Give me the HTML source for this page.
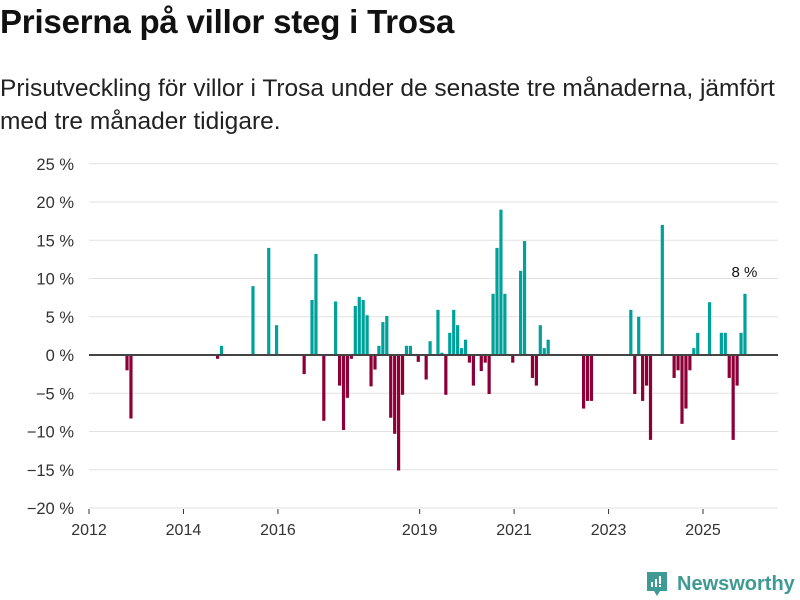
<!DOCTYPE html>
<html><head><meta charset="utf-8">
<style>
body{margin:0;width:800px;height:600px;background:#fff;font-family:"Liberation Sans","DejaVu Sans",sans-serif;color:#111;overflow:hidden;position:relative}
#title{position:absolute;left:0;top:3px;font-size:33px;font-weight:bold;letter-spacing:-0.2px}
#sub{position:absolute;left:0;top:72px;font-size:24.5px;line-height:33px;width:790px;color:#222}
#logo{position:absolute;left:645px;top:570px;display:flex;align-items:center}
#logo span{color:#3f9a93;font-weight:bold;font-size:20px;margin-left:8px}
</style></head><body>
<div id="title">Priserna på villor steg i Trosa</div>
<div id="sub">Prisutveckling för villor i Trosa under de senaste tre månaderna, jämfört med tre månader tidigare.</div>
<svg id="chart" width="800" height="600" style="position:absolute;left:0;top:0"></svg>
<div id="logo">
<svg width="24" height="28" viewBox="0 0 24 28"><path d="M2 2h20v19h-7l-3 5-3-5H2z" fill="#3f9a93"/><rect x="6" y="12" width="2" height="5" fill="#fff"/><rect x="10" y="9" width="2" height="8" fill="#fff"/><rect x="14" y="6" width="2" height="8" fill="#fff"/><rect x="14" y="15" width="2" height="2" fill="#fff"/></svg>
<span>Newsworthy</span></div>
<script>
const months=["2012-10","2012-11","2014-09","2014-10","2015-06","2015-10","2015-12","2016-07","2016-09","2016-10","2016-12",
"2017-03","2017-04","2017-05","2017-06","2017-07","2017-08","2017-09","2017-10","2017-11","2017-12",
"2018-01","2018-02","2018-03","2018-04","2018-05","2018-06","2018-07","2018-08","2018-09","2018-10","2018-12",
"2019-02","2019-03","2019-05","2019-06","2019-07","2019-08","2019-09","2019-10","2019-11","2019-12",
"2020-01","2020-02","2020-04","2020-05","2020-06","2020-07","2020-08","2020-09","2020-10","2020-12",
"2021-02","2021-03","2021-05","2021-06","2021-07","2021-08","2021-09",
"2022-06","2022-07","2022-08",
"2023-06","2023-07","2023-08","2023-09","2023-10","2023-11",
"2024-02","2024-05","2024-06","2024-07","2024-08","2024-09","2024-10","2024-11",
"2025-02","2025-05","2025-06","2025-07","2025-08","2025-09","2025-10","2025-11"];
const values=[-2,-8.3,-0.5,1.2,9,14,3.9,-2.5,7.2,13.2,-8.6,
7,-4,-9.8,-5.6,-0.5,6.4,7.6,7.2,5.2,-4.1,
-1.9,1.2,4.3,5.1,-8.2,-10.3,-15.1,-5.2,1.2,1.2,-0.9,
-3.2,1.8,5.9,0.3,-5.2,2.9,5.9,3.9,0.9,2,
-1,-4,-2.1,-1,-5.1,8,14,19,8,-1,
11,14.9,-3,-4,3.9,0.9,2,
-7,-6,-6,
5.9,-5.1,5,-6,-4,-11.1,
17,-3,-2,-9,-7,-2,0.9,2.9,
6.9,2.9,2.9,-3,-11.1,-4,2.9,8];
const yTicks=[25,20,15,10,5,0,-5,-10,-15,-20];
const xTicks=[2012,2014,2016,2019,2021,2023,2025];
const svg=document.getElementById('chart');
const NS='http://www.w3.org/2000/svg';
const x0=89,x1=778,pxMonth=3.936;
function xScale(y,m){return x0+((y-2012)*12+m)*pxMonth;}
function yScale(v){return 355-v*7.65;}
function mk(t,a){const e=document.createElementNS(NS,t);for(const k in a)e.setAttribute(k,a[k]);svg.appendChild(e);return e;}
yTicks.forEach(v=>{
  const g=mk('line',{x1:x0,x2:x1,y1:yScale(v),y2:yScale(v),stroke:'#e2e2e2','stroke-width':1});
  
  
  const t=mk('text',{x:74,y:yScale(v)+6,'text-anchor':'end','font-size':16.5,fill:'#333'});
  t.textContent=(v<0?'−'+(-v):v)+' %';
  
  
});
xTicks.forEach(yr=>{
  const x=xScale(yr,0);
  const l=mk('line',{x1:x,x2:x,y1:509,y2:514,stroke:'#333'});
  
  
  const t=mk('text',{x:x,y:535,'text-anchor':'middle','font-size':16,fill:'#333'});
  t.textContent=yr;
  
  
});
months.forEach((d,i)=>{
  const [yy,mm]=d.split('-').map(Number);
  const v=values[i];
  const x=xScale(yy,mm-1)+1;
  const y=Math.min(yScale(v),yScale(0)),h=Math.abs(yScale(v)-yScale(0));
  const r=mk('rect',{x:x,y:y,width:3.2,height:h,fill:v>=0?'#00a19a':'#8c0037'});
  
  
});
const z=mk('line',{x1:x0,x2:x1,y1:yScale(0),y2:yScale(0),stroke:'#444','stroke-width':2});


const li=months.length-1,[ly,lm]=months[li].split('-').map(Number);
const lab=mk('text',{x:xScale(ly,lm-1)+2,y:yScale(values[li])-17,'text-anchor':'middle','font-size':15,fill:'#111'});
lab.textContent=Math.round(values[li])+' %';


</script>
</body></html>
